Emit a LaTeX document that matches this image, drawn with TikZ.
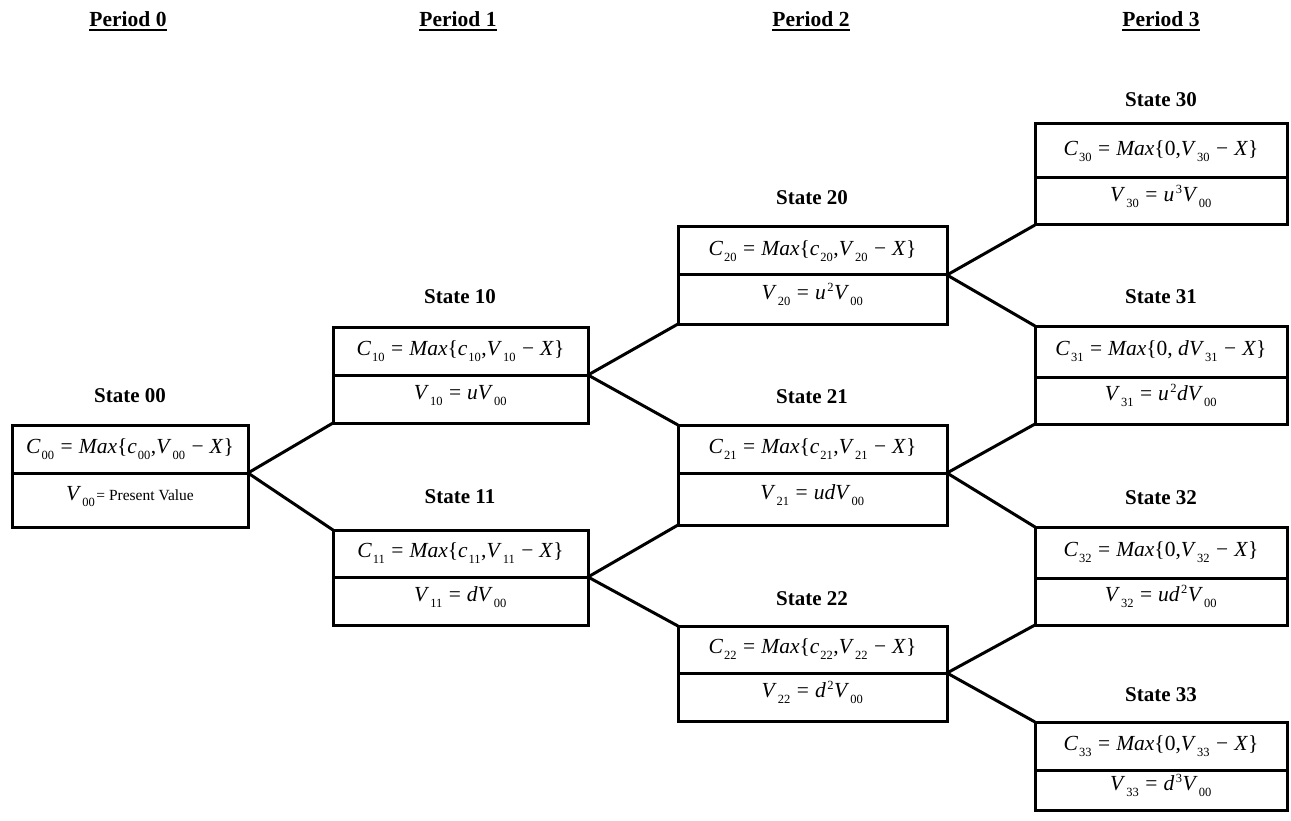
\documentclass[tikz,border=0pt]{standalone}
\usepackage{fontspec}
\setmainfont{Liberation Serif}
\newsavebox\ulbox
\newcommand\ulbold[1]{\sbox\ulbox{#1}\rlap{\usebox\ulbox}\rule[-4pt]{\wd\ulbox}{2.4pt}}
\newcommand\sbs[1]{\kern1pt\raisebox{-6pt}{\fontsize{12.5}{13}\selectfont #1}\kern0.5pt}
\newcommand\sps[1]{\kern1.5pt\raisebox{8pt}{\fontsize{12.5}{13}\selectfont #1}\kern0.5pt}
\newcommand\iv[2]{\textit{#1}\sbs{#2}}
\newcommand\mx{\textit{Max}}
\newcommand\eq{\hspace{0.28em}=\hspace{0.28em}}
\newcommand\mn{\hspace{0.28em}−\hspace{0.28em}}
\tikzset{
 cell/.style={draw, line width=3pt, inner sep=0pt, outer sep=0pt, anchor=north west, font=\fontsize{21.5}{26}\selectfont},
 lowcell/.style={cell, text height=8pt, text depth=8pt},
 conn/.style={line width=3pt},
 statelbl/.style={font=\bfseries\fontsize{21}{25}\selectfont, anchor=base},
 periodlbl/.style={font=\bfseries\fontsize{21.5}{25}\selectfont, anchor=base},
}
\newcommand\stbox[8]{%
 \node[cell, minimum width=#6pt, minimum height={#4pt-#3pt}] (#1t) at (#2,#3) {#7};
 \node[lowcell, minimum width=#6pt, minimum height={#5pt-#4pt}] (#1b) at (#2,#4) {#8};
}
\begin{document}
\begin{tikzpicture}[x=1pt,y=-1pt]
\useasboundingbox (0,0) rectangle (1291,821);
% period headings
\node[periodlbl] (p0) at (128,27) {\ulbold{Period 0}};
\node[periodlbl] (p1) at (458,27) {\ulbold{Period 1}};
\node[periodlbl] (p2) at (811,27) {\ulbold{Period 2}};
\node[periodlbl] (p3) at (1161,27) {\ulbold{Period 3}};
% state labels
\node[statelbl] (s00) at (130,402) {State 00};
\node[statelbl] (s10) at (460,304) {State 10};
\node[statelbl] (s11) at (460,503) {State 11};
\node[statelbl] (s20) at (812,205) {State 20};
\node[statelbl] (s21) at (812,403) {State 21};
\node[statelbl] (s22) at (812,605) {State 22};
\node[statelbl] (s30) at (1161,107) {State 30};
\node[statelbl] (s31) at (1161,304) {State 31};
\node[statelbl] (s32) at (1161,504) {State 32};
\node[statelbl] (s33) at (1161,701) {State 33};
% boxes
\stbox{b00}{12}{425}{473}{527}{236}
 {\iv{C}{00}\eq\mx\{\iv{c}{00},\iv{V}{00}\mn\textit{X}\}}
 {\iv{V}{00}{\fontsize{15.5}{18}\selectfont\kern1pt= Present Value}}
\stbox{b10}{333}{327}{375}{423}{255}
 {\iv{C}{10}\eq\mx\{\iv{c}{10},\iv{V}{10}\mn\textit{X}\}}
 {\iv{V}{10}\eq\textit{u}\iv{V}{00}}
\stbox{b11}{333}{530}{577}{625}{255}
 {\iv{C}{11}\eq\mx\{\iv{c}{11},\iv{V}{11}\mn\textit{X}\}}
 {\iv{V}{11}\eq\textit{d}\iv{V}{00}}
\stbox{b20}{678}{227}{275}{324}{269}
 {\iv{C}{20}\eq\mx\{\iv{c}{20},\iv{V}{20}\mn\textit{X}\}}
 {\iv{V}{20}\eq\textit{u}\sps{2}\iv{V}{00}}
\stbox{b21}{678}{425}{473}{525}{269}
 {\iv{C}{21}\eq\mx\{\iv{c}{21},\iv{V}{21}\mn\textit{X}\}}
 {\iv{V}{21}\eq\textit{ud}\iv{V}{00}}
\stbox{b22}{678}{626}{673}{721}{269}
 {\iv{C}{22}\eq\mx\{\iv{c}{22},\iv{V}{22}\mn\textit{X}\}}
 {\iv{V}{22}\eq\textit{d}\sps{2}\iv{V}{00}}
\stbox{b30}{1035}{124}{178}{225}{252}
 {\iv{C}{30}\eq\mx\{0,\iv{V}{30}\mn\textit{X}\}}
 {\iv{V}{30}\eq\textit{u}\sps{3}\iv{V}{00}}
\stbox{b31}{1035}{326}{377}{424}{252}
 {\iv{C}{31}\eq\mx\{0, \textit{d}\iv{V}{31}\mn\textit{X}\}}
 {\iv{V}{31}\eq\textit{u}\sps{2}\textit{d}\iv{V}{00}}
\stbox{b32}{1035}{527}{578}{625}{252}
 {\iv{C}{32}\eq\mx\{0,\iv{V}{32}\mn\textit{X}\}}
 {\iv{V}{32}\eq\textit{ud}\sps{2}\iv{V}{00}}
\stbox{b33}{1035}{722}{770}{810}{252}
 {\iv{C}{33}\eq\mx\{0,\iv{V}{33}\mn\textit{X}\}}
 {\iv{V}{33}\eq\textit{d}\sps{3}\iv{V}{00}}
% connectors
\draw[conn] (b10b.south west) -- (b00t.south east) -- (b11t.north west);
\draw[conn] (b20b.south west) -- (b10t.south east) -- (b21t.north west);
\draw[conn] (b21b.south west) -- (b11t.south east) -- (b22t.north west);
\draw[conn] (b30b.south west) -- (b20t.south east) -- (b31t.north west);
\draw[conn] (b31b.south west) -- (b21t.south east) -- (b32t.north west);
\draw[conn] (b32b.south west) -- (b22t.south east) -- (b33t.north west);
\end{tikzpicture}
\end{document}
